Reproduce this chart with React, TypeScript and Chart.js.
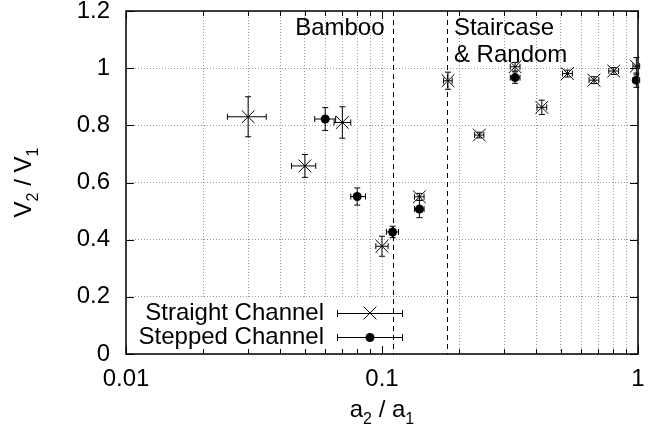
import { useEffect, useRef } from "react";
import { Chart, registerables } from "chart.js";

Chart.register(...registerables);

const FONT = '"Liberation Sans", Arial, Helvetica, sans-serif';

// ---- Data ----
const straightX = [0.03, 0.05, 0.07, 0.1, 0.14, 0.181, 0.24, 0.331, 0.421, 0.53, 0.673, 0.804, 0.985];
const straightY = [0.83, 0.658, 0.81, 0.377, 0.55, 0.956, 0.766, 1.005, 0.863, 0.981, 0.958, 0.99, 1.007];
const straightXLow = [0.0249, 0.0443, 0.065, 0.0946, 0.134, 0.174, 0.23, 0.317, 0.403, 0.507, 0.644, 0.769, 0.955];
const straightXHigh = [0.0353, 0.0551, 0.0755, 0.1056, 0.146, 0.188, 0.25, 0.346, 0.44, 0.554, 0.703, 0.84, 1.015];
const straightYErr = [0.07, 0.04, 0.055, 0.035, 0.012, 0.03, 0.01, 0.015, 0.025, 0.012, 0.012, 0.012, 0.03];

const steppedX = [0.06, 0.08, 0.11, 0.14, 0.331, 0.985];
const steppedY = [0.822, 0.551, 0.427, 0.507, 0.967, 0.958];
const steppedXLow = [0.0546, 0.0755, 0.104, 0.134, 0.317, 0.955];
const steppedXHigh = [0.0659, 0.0862, 0.116, 0.146, 0.346, 1.015];
const steppedYErr = [0.04, 0.03, 0.02, 0.03, 0.02, 0.025];

const seriesLabels = ["Straight Channel", "Stepped Channel"];

const xTicks = [0.01, 0.02, 0.03, 0.04, 0.05, 0.06, 0.07, 0.08, 0.09, 0.1, 0.2, 0.3, 0.4, 0.5, 0.6, 0.7, 0.8, 0.9, 1];
const xMajorTicks = [0.01, 0.1, 1];
const xMajorLabels = ["0.01", "0.1", "1"];
const yTicks = [0, 0.2, 0.4, 0.6, 0.8, 1, 1.2];
const yTickLabels = ["0", "0.2", "0.4", "0.6", "0.8", "1", "1.2"];

const regionBounds = [0.11, 0.18];
const regionLabels = ["Bamboo", "Staircase", "& Random"];

const xTitle = [["a", false], ["2", true], [" / a", false], ["1", true]] as [string, boolean][];
const yTitle = [["V", false], ["2", true], [" / V", false], ["1", true]] as [string, boolean][];

function buildPoints(xs: number[], ys: number[], lo: number[], hi: number[], ye: number[]) {
  return xs.map((x, i) => ({ x, y: ys[i], xMin: lo[i], xMax: hi[i], yMin: ys[i] - ye[i], yMax: ys[i] + ye[i] }));
}

const isMajor = (v: number) => xMajorTicks.findIndex((m) => Math.abs(Math.log10(v) - Math.log10(m)) < 1e-6);

function drawSubText(ctx: CanvasRenderingContext2D, parts: [string, boolean][], size: number) {
  const subSize = Math.round(size * 0.68);
  let total = 0;
  const widths = parts.map(([t, sub]) => {
    ctx.font = `${sub ? subSize : size}px ${FONT}`;
    const w = ctx.measureText(t).width;
    total += w;
    return w;
  });
  let cx = -total / 2;
  parts.forEach(([t, sub], i) => {
    ctx.font = `${sub ? subSize : size}px ${FONT}`;
    ctx.fillText(t, cx, sub ? size * 0.28 : 0);
    cx += widths[i];
  });
}

const errorBarPlugin = {
  id: "errorBars",
  beforeDatasetsDraw(chart: any) {
    const { ctx, scales } = chart;
    const xs = scales.x;
    const ys = scales.y;
    const cap = 3;
    ctx.save();
    ctx.strokeStyle = "#000";
    ctx.lineWidth = 1;
    chart.data.datasets.forEach((ds: any) => {
      ds.data.forEach((p: any) => {
        const px = xs.getPixelForValue(p.x);
        const py = ys.getPixelForValue(p.y);
        const xl = xs.getPixelForValue(p.xMin);
        const xh = xs.getPixelForValue(p.xMax);
        const yt = ys.getPixelForValue(p.yMax);
        const yb = ys.getPixelForValue(p.yMin);
        ctx.beginPath();
        ctx.moveTo(xl, py); ctx.lineTo(xh, py);
        ctx.moveTo(xl, py - cap); ctx.lineTo(xl, py + cap);
        ctx.moveTo(xh, py - cap); ctx.lineTo(xh, py + cap);
        ctx.moveTo(px, yt); ctx.lineTo(px, yb);
        ctx.moveTo(px - cap, yt); ctx.lineTo(px + cap, yt);
        ctx.moveTo(px - cap, yb); ctx.lineTo(px + cap, yb);
        ctx.stroke();
      });
    });
    ctx.restore();
  },
};

const decorPlugin = {
  id: "decor",
  beforeDatasetsDraw(chart: any) {
    const { ctx, chartArea: a, scales } = chart;
    // opaque key area (erases grid like the reference)
    ctx.save();
    ctx.fillStyle = "#fff";
    ctx.fillRect(a.left, a.bottom - 55, 286, 55);
    // region boundaries
    ctx.strokeStyle = "#000";
    ctx.lineWidth = 1;
    ctx.setLineDash([5, 4]);
    regionBounds.forEach((b) => {
      const px = Math.round(scales.x.getPixelForValue(b)) + 0.5;
      ctx.beginPath();
      ctx.moveTo(px, a.top);
      ctx.lineTo(px, a.bottom);
      ctx.stroke();
    });
    ctx.restore();
  },
  afterDraw(chart: any) {
    const { ctx, chartArea: a, scales } = chart;
    const xs = scales.x;
    const ys = scales.y;
    ctx.save();
    // tick marks (inward, mirrored)
    ctx.strokeStyle = "#000";
    ctx.lineWidth = 1;
    ctx.beginPath();
    xTicks.forEach((v) => {
      const px = Math.round(xs.getPixelForValue(v)) + 0.5;
      const len = isMajor(v) >= 0 ? 8 : 5;
      ctx.moveTo(px, a.bottom); ctx.lineTo(px, a.bottom - len);
      ctx.moveTo(px, a.top); ctx.lineTo(px, a.top + len);
    });
    yTicks.forEach((v) => {
      const py = Math.round(ys.getPixelForValue(v)) + 0.5;
      ctx.moveTo(a.left, py); ctx.lineTo(a.left + 8, py);
      ctx.moveTo(a.right, py); ctx.lineTo(a.right - 8, py);
    });
    ctx.stroke();
    // frame
    ctx.lineWidth = 1.5;
    ctx.strokeRect(a.left, a.top, a.right - a.left, a.bottom - a.top);

    // region labels
    ctx.fillStyle = "#000";
    ctx.font = `24px ${FONT}`;
    ctx.textBaseline = "alphabetic";
    ctx.textAlign = "right";
    ctx.fillText(regionLabels[0], xs.getPixelForValue(0.1023), ys.getPixelForValue(1.116));
    ctx.textAlign = "left";
    ctx.fillText(regionLabels[1], xs.getPixelForValue(0.191), ys.getPixelForValue(1.116));
    ctx.fillText(regionLabels[2], xs.getPixelForValue(0.191), ys.getPixelForValue(1.022));

    // legend
    const rowY = [a.bottom - 41, a.bottom - 17];
    const textRight = a.left + 198;
    const lineL = a.left + 211;
    const lineR = a.left + 277;
    const mid = (lineL + lineR) / 2;
    chart.data.datasets.forEach((ds: any, i: number) => {
      const y = rowY[i];
      ctx.textAlign = "right";
      ctx.textBaseline = "middle";
      ctx.font = `24px ${FONT}`;
      ctx.fillText(seriesLabels[i], textRight, y);
      ctx.beginPath();
      ctx.lineWidth = 1;
      ctx.moveTo(lineL, y + 0.5); ctx.lineTo(lineR, y + 0.5);
      ctx.moveTo(lineL + 0.5, y - 3); ctx.lineTo(lineL + 0.5, y + 4);
      ctx.moveTo(lineR - 0.5, y - 3); ctx.lineTo(lineR - 0.5, y + 4);
      ctx.stroke();
      if (i === 0) {
        ctx.beginPath();
        ctx.moveTo(mid - 6.4, y - 6.4); ctx.lineTo(mid + 6.4, y + 6.4);
        ctx.moveTo(mid - 6.4, y + 6.4); ctx.lineTo(mid + 6.4, y - 6.4);
        ctx.stroke();
      } else {
        ctx.beginPath();
        ctx.arc(mid, y + 0.5, 4.5, 0, Math.PI * 2);
        ctx.fill();
      }
    });

    // axis titles
    ctx.textAlign = "left";
    ctx.textBaseline = "alphabetic";
    ctx.save();
    ctx.translate((a.left + a.right) / 2, 417);
    drawSubText(ctx, xTitle, 24);
    ctx.restore();
    ctx.save();
    ctx.translate(31, (a.top + a.bottom) / 2);
    ctx.rotate(-Math.PI / 2);
    drawSubText(ctx, yTitle, 24);
    ctx.restore();
    ctx.restore();
  },
};

export default function App() {
  const ref = useRef<HTMLCanvasElement | null>(null);

  useEffect(() => {
    if (!ref.current) return;
    const chart = new Chart(ref.current, {
      type: "scatter",
      data: {
        datasets: [
          {
            label: seriesLabels[0],
            data: buildPoints(straightX, straightY, straightXLow, straightXHigh, straightYErr),
            pointStyle: "crossRot",
            pointRadius: 9,
            pointHoverRadius: 9,
            borderColor: "#000",
            backgroundColor: "#000",
            borderWidth: 1,
          },
          {
            label: seriesLabels[1],
            data: buildPoints(steppedX, steppedY, steppedXLow, steppedXHigh, steppedYErr),
            pointStyle: "circle",
            pointRadius: 4.5,
            pointHoverRadius: 4.5,
            borderColor: "#000",
            backgroundColor: "#000",
            borderWidth: 0,
          },
        ] as any,
      },
      options: {
        animation: false,
        responsive: false,
        events: [],
        layout: { padding: { top: 11, right: 7, left: 0, bottom: 0 } },
        plugins: { legend: { display: false }, tooltip: { enabled: false } },
        scales: {
          x: {
            type: "logarithmic",
            min: 0.01,
            max: 1,
            afterBuildTicks: (s: any) => {
              s.ticks = xTicks.map((v) => ({ value: v }));
            },
            afterFit: (s: any) => {
              s.height = 81;
              s.paddingLeft = 0;
              s.paddingRight = 0;
              s.paddingTop = 0;
              s.paddingBottom = 0;
            },
            ticks: {
              autoSkip: false,
              maxRotation: 0,
              minRotation: 0,
              color: "#000",
              padding: 11,
              font: { family: FONT, size: 24 },
              callback: (v: any) => {
                const i = isMajor(Number(v));
                return i >= 0 ? xMajorLabels[i] : "";
              },
            },
            grid: { color: "#9a9a9a", lineWidth: 1, drawTicks: false },
            border: { display: false, dash: [1, 2] },
          },
          y: {
            type: "linear",
            min: 0,
            max: 1.2,
            afterBuildTicks: (s: any) => {
              s.ticks = yTicks.map((v) => ({ value: v }));
            },
            afterFit: (s: any) => {
              s.width = 126;
              s.paddingLeft = 0;
              s.paddingRight = 0;
              s.paddingTop = 0;
              s.paddingBottom = 0;
            },
            ticks: {
              color: "#000",
              padding: 16,
              font: { family: FONT, size: 24 },
              callback: (v: any) => {
                const i = yTicks.findIndex((t) => Math.abs(t - Number(v)) < 1e-9);
                return i >= 0 ? yTickLabels[i] : "";
              },
            },
            grid: { color: "#9a9a9a", lineWidth: 1, drawTicks: false },
            border: { display: false, dash: [1, 2] },
          },
        },
      } as any,
      plugins: [decorPlugin, errorBarPlugin],
    });
    return () => chart.destroy();
  }, []);

  return (
    <div style={{ position: "fixed", left: 0, top: 0, width: 648, height: 435, background: "#fff" }}>
      <canvas ref={ref} width={648} height={435} style={{ display: "block", width: 648, height: 435 }} />
    </div>
  );
}
